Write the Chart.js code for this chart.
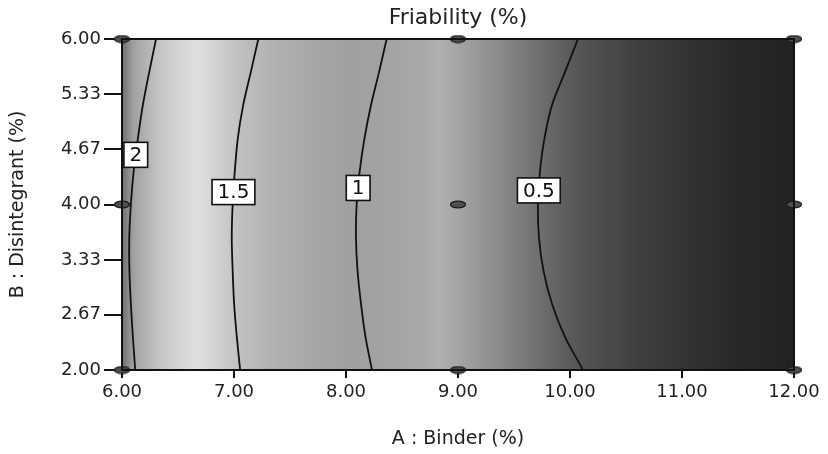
<!DOCTYPE html>
<html>
<head>
<meta charset="utf-8">
<script src="https://cdn.jsdelivr.net/npm/chart.js@4"></script>
<style>
  html, body { margin: 0; padding: 0; background: #fff; }
  #wrap { width: 828px; height: 454px; }
</style>
</head>
<body>
<div id="wrap"><canvas id="myChart" width="828" height="454"></canvas></div>
<script>
// contour y positions (B : Disintegrant)
const contourY = [6.0, 5.6, 5.2, 4.8, 4.4, 4.0, 3.6, 3.2, 2.8, 2.4, 2.0];
// x position (A : Binder) of each contour level at those y values
const contour2 = [6.304, 6.243, 6.186, 6.142, 6.104, 6.079, 6.065, 6.066, 6.079, 6.097, 6.118];
const contour15 = [7.217, 7.150, 7.082, 7.034, 7.007, 6.988, 6.980, 6.988, 7.001, 7.025, 7.055];
const contour1 = [8.363, 8.295, 8.223, 8.165, 8.122, 8.095, 8.089, 8.103, 8.134, 8.174, 8.232];
const contour05 = [10.071, 9.955, 9.839, 9.772, 9.732, 9.714, 9.723, 9.763, 9.839, 9.955, 10.116];
const levels = ["2", "1.5", "1", "0.5"];
const labelY = [4.60, 4.15, 4.20, 4.17];

// design points
const designX = [6, 6, 6, 9, 9, 9, 12, 12, 12];
const designY = [6, 4, 2, 6, 4, 2, 6, 4, 2];

// tick labels
const xTicks = [6, 7, 8, 9, 10, 11, 12];
const yTicks = [2.00, 2.67, 3.33, 4.00, 4.67, 5.33, 6.00];

// response shading along binder axis (grey level 0-255)
const shadeX = [6.00, 6.10, 6.30, 6.50, 6.65, 6.75, 6.90, 7.05, 7.30, 7.60, 8.00, 8.30, 8.70, 8.84, 9.00, 9.20, 9.40, 9.60, 9.80, 10.00, 10.30, 10.60, 11.00, 11.50, 12.00];
const shadeGray = [110, 160, 192, 212, 222, 218, 205, 192, 180, 170, 160, 162, 170, 176, 165, 150, 136, 120, 105, 90, 75, 64, 52, 40, 34];

const contours = [contour2, contour15, contour1, contour05];

function toPoints(xs) {
    return xs.map((x, i) => ({x: x, y: contourY[i]}));
}

function ellipseMarker() {
    const c = document.createElement('canvas');
    c.width = 18;
    c.height = 9;
    const g = c.getContext('2d');
    g.beginPath();
    g.ellipse(9, 4.5, 7.5, 3.3, 0, 0, Math.PI * 2);
    g.fillStyle = '#505050';
    g.fill();
    g.lineWidth = 1.3;
    g.strokeStyle = '#1a1a1a';
    g.stroke();
    return c;
}

const shading = {
    id: 'shading',
    beforeDatasetsDraw(chart) {
        const {ctx, chartArea, scales} = chart;
        const x0 = scales.x.getPixelForValue(shadeX[0]);
        const x1 = scales.x.getPixelForValue(shadeX[shadeX.length - 1]);
        const grad = ctx.createLinearGradient(x0, 0, x1, 0);
        shadeX.forEach((v, i) => {
            const g = shadeGray[i];
            grad.addColorStop((v - shadeX[0]) / (shadeX[shadeX.length - 1] - shadeX[0]), 'rgb(' + g + ',' + g + ',' + g + ')');
        });
        ctx.save();
        ctx.fillStyle = grad;
        ctx.fillRect(chartArea.left, chartArea.top, chartArea.right - chartArea.left, chartArea.bottom - chartArea.top);
        ctx.restore();
    },
    afterDatasetsDraw(chart) {
        const {ctx, chartArea, scales} = chart;
        ctx.save();
        // frame
        ctx.strokeStyle = '#111';
        ctx.lineWidth = 2;
        ctx.strokeRect(chartArea.left, chartArea.top, chartArea.right - chartArea.left, chartArea.bottom - chartArea.top);
        // contour labels
        ctx.font = '20px "DejaVu Sans"';
        ctx.textAlign = 'center';
        ctx.textBaseline = 'middle';
        levels.forEach((lab, k) => {
            const xs = contours[k];
            let lx = xs[0];
            for (let i = 0; i < contourY.length - 1; i++) {
                const ya = contourY[i], yb = contourY[i + 1];
                if (labelY[k] <= ya && labelY[k] >= yb) {
                    lx = xs[i] + (xs[i + 1] - xs[i]) * (ya - labelY[k]) / (ya - yb);
                }
            }
            const px = scales.x.getPixelForValue(lx);
            const py = scales.y.getPixelForValue(labelY[k]);
            const w = ctx.measureText(lab).width + 11;
            const h = 25;
            ctx.fillStyle = '#fff';
            ctx.fillRect(px - w / 2, py - h / 2, w, h);
            ctx.strokeStyle = '#111';
            ctx.lineWidth = 1.6;
            ctx.strokeRect(px - w / 2, py - h / 2, w, h);
            ctx.fillStyle = '#111';
            ctx.fillText(lab, px, py + 1);
        });
        ctx.restore();
    }
};

const ctx = document.getElementById('myChart');
const marker = ellipseMarker();

const datasets = contours.map((xs, k) => ({
    label: levels[k],
    data: toPoints(xs),
    showLine: true,
    borderColor: '#111',
    borderWidth: 1.8,
    pointRadius: 0,
    tension: 0.3,
    fill: false
}));
datasets.push({
    label: 'Design points',
    data: designX.map((x, i) => ({x: x, y: designY[i]})),
    showLine: false,
    pointStyle: marker,
    pointRadius: 8,
    clip: false
});

new Chart(ctx, {
    type: 'scatter',
    data: {datasets: datasets},
    options: {
        responsive: false,
        animation: false,
        layout: {padding: {left: 0, right: 34, top: 0, bottom: 0}},
        plugins: {
            legend: {display: false},
            tooltip: {enabled: false},
            title: {
                display: true,
                text: 'Friability (%)',
                fullSize: false,
                color: '#222',
                font: {family: 'DejaVu Sans', size: 22, weight: 'normal'},
                padding: {top: 5, bottom: 7.6}
            }
        },
        scales: {
            x: {
                type: 'linear',
                min: 6,
                max: 12,
                afterBuildTicks: (scale) => { scale.ticks = xTicks.map(v => ({value: v})); },
                afterFit: (scale) => { scale.height = 84; },
                grid: {display: true, drawOnChartArea: false, drawTicks: true, tickLength: 8, color: '#111', lineWidth: 2},
                border: {display: true, color: '#111', width: 2},
                ticks: {
                    color: '#222',
                    padding: 4,
                    font: {family: 'DejaVu Sans', size: 18},
                    callback: (v) => Number(v).toFixed(2)
                },
                title: {
                    display: true,
                    text: 'A : Binder (%)',
                    color: '#222',
                    font: {family: 'DejaVu Sans', size: 19},
                    padding: {top: 0, bottom: 4}
                }
            },
            y: {
                type: 'linear',
                min: 2,
                max: 6,
                afterBuildTicks: (scale) => { scale.ticks = yTicks.map(v => ({value: v})); },
                afterFit: (scale) => { scale.width = 122; },
                grid: {display: true, drawOnChartArea: false, drawTicks: true, tickLength: 18, color: '#111', lineWidth: 2},
                border: {display: true, color: '#111', width: 2},
                ticks: {
                    color: '#222',
                    padding: 3,
                    font: {family: 'DejaVu Sans', size: 18},
                    callback: (v) => Number(v).toFixed(2)
                },
                title: {
                    display: true,
                    text: 'B : Disintegrant (%)',
                    color: '#222',
                    font: {family: 'DejaVu Sans', size: 19},
                    padding: {top: 7, bottom: 0}
                }
            }
        }
    },
    plugins: [shading]
});
</script>
</body>
</html>
